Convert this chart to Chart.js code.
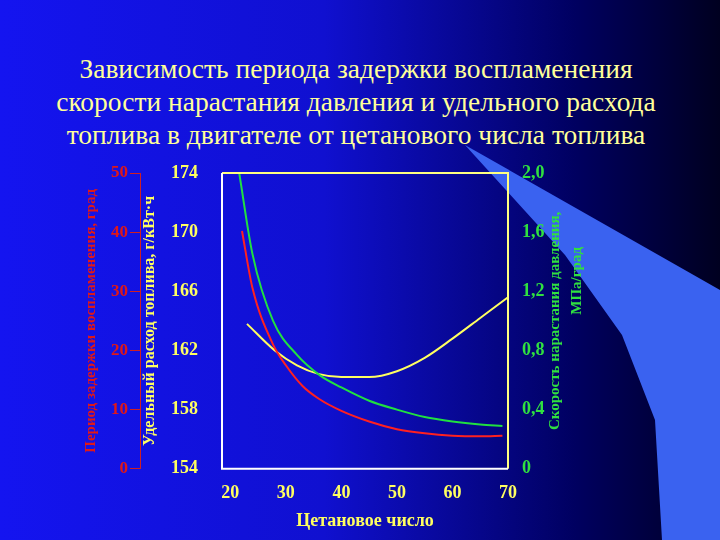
<!DOCTYPE html>
<html><head><meta charset="utf-8">
<script src="https://cdn.jsdelivr.net/npm/chart.js@4"></script>
<style>
html,body{margin:0;padding:0;width:720px;height:540px;overflow:hidden;}
body{background:linear-gradient(90deg,#1414f0 0%,#1010d0 45%,#000060 80%,#000020 100%);position:relative;font-family:"Liberation Serif",serif;}
#wedge{position:absolute;left:0;top:0;}
#title{position:absolute;left:0;top:52px;width:712px;text-align:center;color:#ffff99;font-size:27.5px;line-height:33px;font-family:"Liberation Serif",serif;}
#c{position:absolute;left:0;top:0;}
</style></head><body>
<svg id="wedge" width="720" height="540"><polygon points="465,145 720,290 720,540 662,540 655,420 622,335 565,255" fill="#3a62f0"/></svg>
<div id="title">Зависимость периода задержки воспламенения<br>скорости нарастания давления и удельного расхода<br>топлива в двигателе от цетанового числа топлива</div>
<canvas id="c" width="720" height="540"></canvas>
<script>
const cetaneFuel=[23,28,32,36,40,45,50,55,60,65,70];
const fuel=[163.8,162.0,161.0,160.4,160.2,160.2,160.6,161.5,162.8,164.2,165.6];
const cetaneGreen=[21.6,24,27.7,32,36.2,40,45,50,55,60,65,69];
const green=[2.0,1.45,1.0,0.77,0.63,0.55,0.46,0.40,0.35,0.32,0.30,0.29];
const cetaneRed=[22.1,24,27.7,30,33,36,40,45,50,55,60,65,69];
const delay=[40.2,30.5,21,17.5,14,11.8,9.8,8,6.7,6,5.6,5.5,5.6];
const xTicks=[20,30,40,50,60,70];
const serif='"Liberation Serif", serif';
const pts=(xs,ys)=>xs.map((x,i)=>({x:x,y:ys[i]}));
const boxPlugin={id:'box',afterDatasetsDraw(ch){const a=ch.chartArea,c=ch.ctx;c.save();c.lineWidth=2;
c.strokeStyle='#ffff80';c.beginPath();c.moveTo(a.left,a.top);c.lineTo(a.right,a.top);c.lineTo(a.right,a.bottom);c.stroke();
c.strokeStyle='#ffffff';c.beginPath();c.moveTo(a.left,a.top);c.lineTo(a.left,a.bottom);c.lineTo(a.right,a.bottom);c.stroke();
c.font='bold 15px '+serif;c.textAlign='center';c.textBaseline='middle';
c.translate(555,(a.top+a.bottom)/2);c.rotate(-Math.PI/2);c.fillStyle='#30e040';
c.fillText('Скорость нарастания давления,',0,0);c.fillText('МПа/град',40,22);c.restore();}};
new Chart(document.getElementById('c'),{type:'line',
data:{datasets:[
{data:pts(cetaneRed,delay),yAxisID:'yRed',borderColor:'#ff2020',borderWidth:2},
{data:pts(cetaneGreen,green),yAxisID:'yGreen',borderColor:'#20e040',borderWidth:2},
{data:pts(cetaneFuel,fuel),yAxisID:'yFuel',borderColor:'#ffff60',borderWidth:2}]},
options:{responsive:false,animation:false,events:[],
elements:{point:{radius:0},line:{cubicInterpolationMode:'monotone'}},
plugins:{legend:{display:false},tooltip:{enabled:false}},
layout:{padding:{left:82,right:130,top:173,bottom:0}},
scales:{
x:{type:'linear',min:18.5,max:70,afterBuildTicks:s=>{s.ticks=xTicks.map(v=>({value:v}));},
 grid:{display:false},border:{display:false},
 ticks:{color:'#ffff60',font:{family:serif,size:18,weight:'bold'},padding:6},
 title:{display:true,text:'Цетановое число',color:'#ffff60',font:{family:serif,size:18,weight:'bold'},padding:{top:0,bottom:8}}},
yFuel:{position:'left',min:154,max:174,afterBuildTicks:s=>{s.ticks=[154,158,162,166,170,174].map(v=>({value:v}));},
 afterFit:s=>{s.width=82;},
 grid:{drawOnChartArea:false,display:false},border:{display:false},
 ticks:{color:'#ffff60',font:{family:serif,size:18,weight:'bold'},padding:16},
 title:{display:true,text:'Удельный расход топлива, г/кВт·ч',color:'#ffff60',font:{family:serif,size:16,weight:'bold'},padding:0}},
yRed:{position:'left',min:0,max:50,afterBuildTicks:s=>{s.ticks=[0,10,20,30,40,50].map(v=>({value:v}));},
 afterFit:s=>{s.width=58;},
 grid:{drawOnChartArea:false,color:'#d02020',tickLength:10},border:{color:'#d02020',width:1},
 ticks:{color:'#e01818',font:{family:serif,size:17,weight:'bold'},padding:2},
 title:{display:true,text:'Период задержки воспламенения, град',color:'#e01818',font:{family:serif,size:15,weight:'bold'},padding:0}},
yGreen:{position:'right',min:0,max:2,afterBuildTicks:s=>{s.ticks=[0,0.4,0.8,1.2,1.6,2.0].map(v=>({value:v}));},
 afterFit:s=>{s.width=82;},
 grid:{drawOnChartArea:false,display:false},border:{display:false},
 ticks:{color:'#30e040',font:{family:serif,size:18,weight:'bold'},padding:6,callback:v=>v===0?'0':v.toFixed(1).replace('.',',')}}
}},plugins:[boxPlugin]});
</script></body></html>
